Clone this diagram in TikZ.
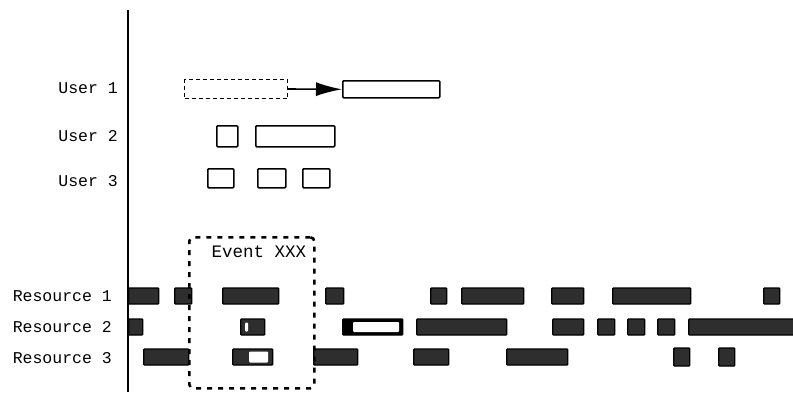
\documentclass[tikz,border=0pt]{standalone}
\usepackage{fontspec}
\setmonofont{Liberation Mono}
\usetikzlibrary{arrows.meta}
\begin{document}
\begin{tikzpicture}[x=1pt,y=-1pt,
  lbl/.style={font=\ttfamily\fontsize{16.5}{18}\selectfont, anchor=east, inner sep=0},
  ubox/.style={draw=black, line width=1.6pt, rounded corners=1pt, inner sep=0, anchor=north west},
  bar/.style={draw=black, line width=1.4pt, fill=black!82, inner sep=0, minimum height=16, anchor=west, rounded corners=0.8pt},
  hole/.style={fill=white, draw=none, inner sep=0, anchor=west, rounded corners=1pt}
]
\useasboundingbox (0,0) rectangle (793,392);
% axis
\coordinate (axtop) at (128,10);
\coordinate (axbot) at (128,392);
\draw[line width=2pt] (axtop) -- (axbot);

% user labels
\node[lbl] (lu1) at (118,88) {User 1};
\node[lbl] (lu2) at (118,136) {User 2};
\node[lbl] (lu3) at (118,181) {User 3};

% user 1
\node[draw=black, line width=1pt, dashed, dash pattern=on 4pt off 3pt, inner sep=0, anchor=north west, minimum width=103, minimum height=19] (u1a) at (184,79) {};
\node[ubox, minimum width=97, minimum height=17] (u1b) at (342,80) {};
\draw[line width=1.6pt, -{Latex[length=26pt,width=14pt]}] (u1a.east) -- (u1b.west);

% user 2
\node[ubox, minimum width=21, minimum height=21] (u2a) at (216,125) {};
\node[ubox, minimum width=79, minimum height=21] (u2b) at (255,125) {};

% user 3
\node[ubox, minimum width=26, minimum height=19] (u3a) at (207,168) {};
\node[ubox, minimum width=28, minimum height=19] (u3b) at (257,168) {};
\node[ubox, minimum width=27, minimum height=19] (u3c) at (302,168) {};

% resource labels
\node[lbl] (lr1) at (112,296) {Resource 1};
\node[lbl] (lr2) at (112,327) {Resource 2};
\node[lbl] (lr3) at (112,358) {Resource 3};

% resource 1
\node[bar, minimum width=30] (r1a) at (128,296) {};
\node[bar, minimum width=17] (r1b) at (174,296) {};
\node[bar, minimum width=56] (r1c) at (222,296) {};
\node[bar, minimum width=18] (r1d) at (325,296) {};
\node[bar, minimum width=16] (r1e) at (430,296) {};
\node[bar, minimum width=62] (r1f) at (461,296) {};
\node[bar, minimum width=32] (r1g) at (551,296) {};
\node[bar, minimum width=78] (r1h) at (612,296) {};
\node[bar, minimum width=16] (r1i) at (763,296) {};

% resource 2
\node[bar, minimum width=14] (r2a) at (128,327) {};
\node[bar, minimum width=24] (r2b) at (240,327) {};
\node[hole, minimum width=3, minimum height=9] (r2bh) at (245,327) {};
\node[bar, minimum width=60, fill=black] (r2c) at (342,327) {};
\node[hole, minimum width=46, minimum height=10] (r2ch) at (353,327) {};
\node[bar, minimum width=90] (r2d) at (416,327) {};
\node[bar, minimum width=31] (r2e) at (552,327) {};
\node[bar, minimum width=17] (r2f) at (597,327) {};
\node[bar, minimum width=17] (r2g) at (627,327) {};
\node[bar, minimum width=17] (r2h) at (657,327) {};
\node[bar, minimum width=110] (r2i) at (688,327) {};

% resource 3
\node[bar, minimum width=45] (r3a) at (143,357) {};
\node[bar, minimum width=40] (r3b) at (232,357) {};
\node[hole, minimum width=19, minimum height=11] (r3bh) at (249,357) {};
\node[bar, minimum width=44] (r3c) at (313,357) {};
\node[bar, minimum width=35] (r3d) at (413,357) {};
\node[bar, minimum width=61] (r3e) at (506,357) {};
\node[bar, minimum width=16, minimum height=18] (r3f) at (673,357) {};
\node[bar, minimum width=16, minimum height=18] (r3g) at (718,357) {};

% event box
\node[draw=black, line width=2.6pt, dash pattern=on 5pt off 6pt, rounded corners=4pt, inner sep=0, anchor=north west, minimum width=125, minimum height=151] (ev) at (188,236) {};
\node[font=\ttfamily\fontsize{17.5}{19}\selectfont, inner sep=0] (evl) at (259,252) {Event XXX};
\end{tikzpicture}
\end{document}
